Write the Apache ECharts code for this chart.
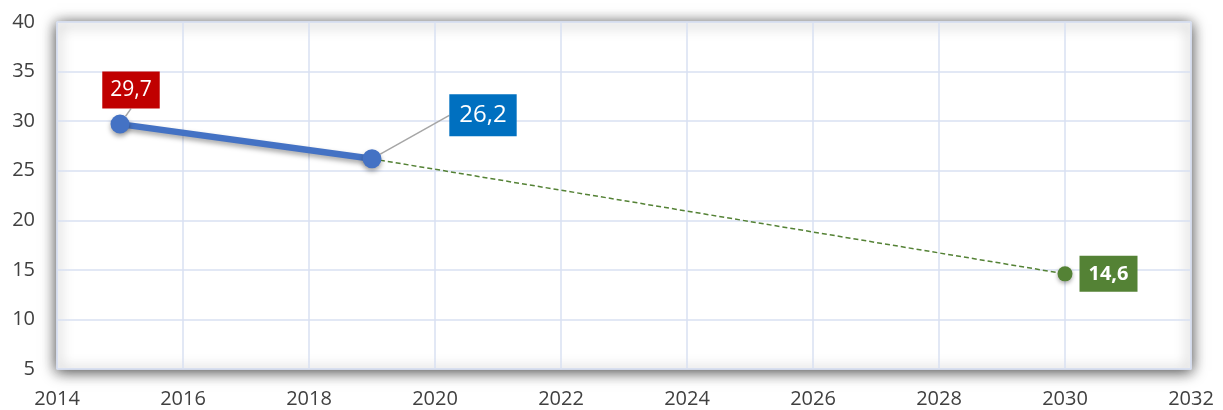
<!DOCTYPE html>
<html><head><meta charset="utf-8">
<script src="https://cdn.jsdelivr.net/npm/echarts@6/dist/echarts.min.js"></script>
<style>html,body{margin:0;padding:0;background:#fff}#c{width:1223px;height:410px}</style>
</head><body><div id="c"></div>
<script>
const actualYears = [2015, 2019];
const actualValues = [29.7, 26.2];
const targetYears = [2019, 2030];
const targetValues = [26.2, 14.6];
const xTicks = {min: 2014, max: 2032, interval: 2};
const yTicks = {min: 5, max: 40, interval: 5};

const fmt = v => String(v).replace('.', ',');
const FONT = 'Open Sans';

const chart = echarts.init(document.getElementById('c'));
chart.setOption({
  animation: false,
  grid: {
    left: 57, right: 32, top: 22, bottom: 41,
    show: true, backgroundColor: '#fff', borderColor: '#d3dbea', borderWidth: 1.5,
    shadowColor: 'rgba(0,0,0,0.75)', shadowBlur: 14, shadowOffsetX: 0, shadowOffsetY: 2
  },
  xAxis: {
    type: 'value', min: xTicks.min, max: xTicks.max, interval: xTicks.interval,
    axisLine: {show: false}, axisTick: {show: false},
    splitLine: {show: true, lineStyle: {color: '#d9e1f2', width: 1.5}},
    axisLabel: {formatter: v => String(v), color: '#404040', fontSize: 20, fontFamily: FONT, margin: 20}
  },
  yAxis: {
    type: 'value', min: yTicks.min, max: yTicks.max, interval: yTicks.interval,
    axisLine: {show: false}, axisTick: {show: false},
    splitLine: {show: true, lineStyle: {color: '#d9e1f2', width: 1.5}},
    axisLabel: {color: '#404040', fontSize: 20, fontFamily: FONT, margin: 22}
  },
  series: [
    {
      type: 'line', z: 3,
      data: targetYears.map((y, i) => ({
        value: [y, targetValues[i]],
        symbol: i === 0 ? 'none' : 'circle',
        symbolSize: 15,
        label: i === 0 ? {show: false} : {
          show: true, position: 'right', distance: 7,
          formatter: p => fmt(p.value[1]),
          backgroundColor: '#548235', color: '#fff', fontWeight: 'bold',
          fontSize: 20, fontFamily: FONT, padding: [8, 9, 8, 9]
        }
      })),
      lineStyle: {color: '#548235', width: 1.5, type: [5, 3]},
      itemStyle: {color: '#548235', shadowColor: 'rgba(0,0,0,0.35)', shadowBlur: 4, shadowOffsetY: 2}
    },
    {
      type: 'line', z: 4,
      data: actualYears.map((y, i) => ({
        value: [y, actualValues[i]],
        label: i === 0 ? {
          show: true, position: 'top', distance: 5,
          backgroundColor: '#c00000', color: '#fff', fontSize: 21, padding: [8, 8, 8, 8]
        } : {
          show: true, position: 'top', distance: 5,
          backgroundColor: '#0070c0', color: '#fff', fontSize: 24, padding: [9, 10, 9, 10]
        }
      })),
      label: {fontFamily: FONT, formatter: p => fmt(p.value[1])},
      symbol: 'circle', symbolSize: 19,
      lineStyle: {color: '#4472c4', width: 6.5, shadowColor: 'rgba(0,0,0,0.35)', shadowBlur: 5, shadowOffsetY: 3},
      itemStyle: {color: '#4472c4', shadowColor: 'rgba(0,0,0,0.35)', shadowBlur: 5, shadowOffsetY: 3},
      labelLine: {show: true, lineStyle: {color: '#a6a6a6', width: 1.5}},
      labelLayout: p => p.dataIndex === 0 ? {dx: 11, dy: -1} : {dx: 111, dy: -8}
    }
  ]
});
</script></body></html>
